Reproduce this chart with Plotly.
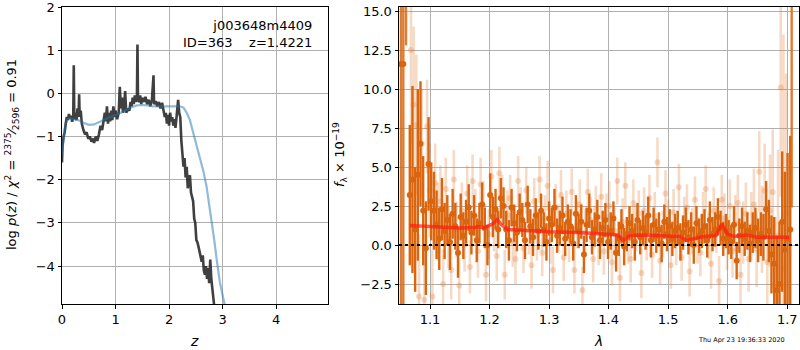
import plotly.graph_objects as go

# ---------------- Left panel: p(z) ----------------
z_pz = [0.00, 0.01, 0.03, 0.05, 0.07, 0.09, 0.11, 0.13, 0.15, 0.17, 0.19, 0.21, 0.22, 0.23, 0.25,
        0.27, 0.29, 0.31, 0.32, 0.33, 0.35, 0.37, 0.40, 0.43, 0.46, 0.49, 0.52, 0.55, 0.58, 0.60,
        0.63, 0.66, 0.69, 0.72, 0.75, 0.78, 0.80, 0.82, 0.84, 0.86, 0.88, 0.90, 0.92, 0.94, 0.96,
        0.98, 1.00, 1.03, 1.06, 1.08, 1.10, 1.12, 1.14, 1.16, 1.18, 1.20, 1.23, 1.26, 1.28, 1.30,
        1.32, 1.34, 1.36, 1.38, 1.40, 1.41, 1.42, 1.44, 1.46, 1.48, 1.50, 1.53, 1.56, 1.59, 1.62,
        1.65, 1.68, 1.71, 1.72, 1.75, 1.78, 1.81, 1.84, 1.87, 1.90, 1.92, 1.94, 1.96, 1.98, 2.00,
        2.02, 2.04, 2.06, 2.08, 2.10, 2.12, 2.14, 2.17, 2.19, 2.21, 2.23, 2.25, 2.27, 2.29, 2.31,
        2.33, 2.35, 2.37, 2.39, 2.41, 2.43, 2.45, 2.47, 2.49, 2.51, 2.53, 2.55, 2.57, 2.59, 2.61,
        2.63, 2.65, 2.67, 2.69, 2.71, 2.73, 2.75, 2.77, 2.79, 2.81, 2.83, 2.85]
logp = [-1.60, -1.20, -1.00, -0.90, -0.70, -0.55, -0.62, -0.48, -0.58, -0.52, -0.66, -0.55, 0.65, -0.60, -0.45,
        -0.62, -0.35, -0.55, -0.02, -0.50, -0.40, -0.70, -0.85, -0.95, -0.90, -1.05, -1.00, -1.12, -1.05, -1.15,
        -1.00, -1.10, -0.95, -0.75, -0.85, -0.60, -0.45, -0.65, -0.30, -0.70, -0.45, -0.65, -0.40, -0.62, -0.30,
        -0.55, -0.40, -0.60, -0.45, 0.15, -0.35, -0.10, -0.45, -0.30, 0.05, -0.45, -0.35, -0.40, -0.20, -0.30,
        -0.10, -0.25, -0.05, -0.20, -0.10, 1.13, -0.15, -0.20, -0.05, -0.25, -0.10, -0.20, -0.08, -0.25, -0.15,
        -0.30, -0.15, 0.42, -0.25, -0.18, -0.30, -0.20, -0.35, -0.22, -0.40, -0.55, -0.45, -0.70, -0.50, -0.75,
        -0.45, -0.65, -0.55, -0.75, -0.60, -0.80, -0.55, -0.15, -0.45, -0.55, -1.10, -1.40, -1.70, -1.50, -1.95,
        -1.70, -2.20, -1.95, -1.90, -2.30, -2.45, -2.50, -2.90, -3.00, -3.40, -3.45, -3.55, -3.70, -3.80, -3.90,
        -3.75, -4.10, -4.20, -4.00, -4.30, -4.05, -4.40, -3.85, -4.30, -4.55, -4.70, -5.00]

z_prior = [0.00, 0.03, 0.06, 0.10, 0.15, 0.20, 0.30, 0.40, 0.50, 0.60, 0.70, 0.80, 0.90, 1.00, 1.10,
           1.20, 1.30, 1.40, 1.50, 1.60, 1.70, 1.80, 1.90, 2.00, 2.10, 2.20, 2.27, 2.33, 2.39, 2.45,
           2.52, 2.58, 2.64, 2.70, 2.75, 2.80, 2.85, 2.89, 2.95, 3.04]
logp_prior = [-1.40, -1.00, -0.75, -0.60, -0.58, -0.60, -0.62, -0.68, -0.73, -0.72, -0.66, -0.60, -0.55, -0.50, -0.45,
              -0.38, -0.32, -0.28, -0.27, -0.28, -0.30, -0.30, -0.30, -0.30, -0.30, -0.30, -0.33, -0.45, -0.62, -0.90,
              -1.23, -1.55, -1.80, -2.15, -2.55, -3.00, -3.45, -3.85, -4.38, -4.90]

# ---------------- Right panel: spectrum ----------------
# dark (first grism) spectrum, uniform wavelength sampling
dark_lam0, dark_dlam = 1.0660, 0.0045
dark_flux = [3.2, 4.2, 1.0, 4.5, 6.5, 2.2, -0.2, 5.2, 2.8, 2.2,
             1.3, 0.4, 2.3, 0.9, 1.6, 0.2, 2.0, 1.2, -0.5, 1.8,
             0.6, 1.5, 2.4, 0.8, 1.9, 0.3, 1.4, 2.6, 1.1, 0.0,
             3.2, 1.8, 2.3, 1.0, 3.0, 2.5, 1.0, 0.3, 2.4, 1.4,
             0.8, 2.1, 1.6, 0.3, 2.6, 1.2, 0.5, 1.9, 0.9, 2.2,
             1.0, 0.2, 1.7, 1.3, 2.4, 0.6, 1.1, 1.9, 0.4, 1.5,
             1.2, 0.1, 2.0, 0.9, 1.5, -0.6, 1.3, 2.2, 0.5, 1.0,
             1.8, 0.3, 1.1, 1.6, 0.2, 0.9, 1.7, -0.5, 0.4, 1.2,
             -0.1, 0.7, 1.4, 0.9, 0.2, 1.6, 0.5, 1.1, 0.8, 1.9,
             0.3, 1.3, 0.6, 1.0, 0.1, 1.5, 0.7, 1.2, 0.4, 0.9,
             1.1, 0.2, 0.8, 1.3, 0.5, 1.0, 0.0, 1.4, 0.6, 0.9,
             1.2, 0.3, 1.6, 0.7, 1.0, 1.8, 1.1, 0.4, 0.9, 0.5,
             0.2, 1.3, -1.0, 0.6, 1.2, 0.4, 0.9, 0.1, 0.8, 1.1,
             0.3, 0.7, 0.5, 2.3, 0.9, -0.6, -1.2, -2.9, -2.5, 1.5,
             -0.3, 0.4, 1.0]
dark_err = [4.5, 6.0, 4.0, 5.5, 4.0, 3.5, 3.0, 3.0, 2.5, 2.5,
            2.2, 2.0, 2.0, 1.8, 1.6, 1.8, 1.6, 1.5, 1.6, 1.5,
            1.5, 1.4, 1.5, 1.4, 1.3, 1.4, 1.3, 1.4, 1.3, 1.3,
            1.4, 1.3, 1.3, 1.2, 1.3, 1.2, 1.2, 1.3, 1.2, 1.2,
            1.2, 1.2, 1.1, 1.2, 1.2, 1.1, 1.2, 1.1, 1.2, 1.1,
            1.1, 1.2, 1.1, 1.1, 1.2, 1.1, 1.1, 1.2, 1.1, 1.1,
            1.1, 1.1, 1.2, 1.1, 1.1, 1.2, 1.1, 1.1, 1.1, 1.1,
            1.1, 1.2, 1.1, 1.1, 1.1, 1.2, 1.1, 1.2, 1.1, 1.1,
            1.2, 1.1, 1.1, 1.1, 1.2, 1.1, 1.1, 1.1, 1.1, 1.2,
            1.1, 1.1, 1.1, 1.1, 1.2, 1.1, 1.1, 1.1, 1.1, 1.1,
            1.1, 1.2, 1.1, 1.1, 1.1, 1.1, 1.2, 1.1, 1.1, 1.1,
            1.1, 1.1, 1.2, 1.1, 1.1, 1.2, 1.1, 1.1, 1.1, 1.1,
            1.1, 1.2, 1.2, 1.1, 1.2, 1.1, 1.2, 1.2, 1.3, 1.3,
            1.4, 1.4, 1.5, 1.8, 2.0, 2.5, 3.0, 3.5, 4.0, 4.5,
            5.0, 5.5, 6.0]
# points at the detector edges with very large uncertainties
edge_lam = [1.0513, 1.0552, 1.0597, 1.7074]
edge_flux = [11.6, 11.6, 20.0, 25.0]
edge_err = [30.0, 30.0, 7.2, 22.6]

# light (second grism) spectrum
light_lam0, light_dlam = 1.0680, 0.0045
light_flux = [12.5, 9.0, 7.7, -3.3, 6.5, -3.5, 7.6, 3.5, -3.3, 4.0,
              1.5, 2.8, -2.5, 3.6, 0.5, -1.6, 4.2, 1.0, -2.6, 2.2,
              0.0, 3.3, -1.4, 4.1, 1.8, -0.4, 3.9, 2.5, -1.9, 0.7,
              4.4, 1.2, -0.7, 4.6, 2.9, -1.9, 1.9, 3.0, 0.2, -0.9,
              4.1, 2.2, -0.2, 3.5, 1.0, -1.3, 2.8, 0.6, 4.2, -0.5,
              1.7, 3.8, 0.3, -1.6, 2.4, 1.1, 3.2, -0.8, 2.0, 0.4,
              3.4, -1.6, 1.3, 2.6, -2.9, 0.8, 3.4, 1.6, -0.9, 2.3,
              0.2, 3.1, -0.4, 1.8, 2.5, -1.1, 0.9, 4.1, -2.1, 1.5,
              3.8, 0.3, -0.9, 2.7, 1.1, 2.0, -1.8, 2.2, 0.5, 3.0,
              -0.6, 1.9, 5.3, -1.0, 0.7, 3.3, 1.4, -1.3, 2.1, 0.2,
              3.7, -0.8, 1.6, 2.4, -1.7, 0.9, 2.9, 0.3, -0.5, 1.8,
              3.6, 0.6, -1.2, 2.2, 1.0, -2.3, 2.9, 1.7, 0.1, 2.5,
              -0.4, 1.4, 2.7, -1.9, 0.8, 2.0, -0.9, 1.2, 2.6, -0.3,
              4.7, 1.0, 3.5, -1.1, 2.2, 3.4, -2.7, 0.6, 10.1, -1.5,
              2.0]
light_err = [6.0, 5.0, 4.5, 4.0, 3.5, 3.5, 3.0, 3.0, 3.0, 2.5,
             2.5, 2.3, 2.2, 2.0, 2.0, 1.9, 1.9, 1.8, 1.8, 1.8,
             1.7, 1.8, 1.7, 1.7, 1.8, 1.7, 1.7, 1.6, 1.7, 1.6,
             1.7, 1.6, 1.6, 1.7, 1.6, 1.6, 1.6, 1.5, 1.6, 1.6,
             1.6, 1.5, 1.6, 1.5, 1.6, 1.5, 1.5, 1.6, 1.5, 1.5,
             1.5, 1.6, 1.5, 1.5, 1.5, 1.5, 1.6, 1.5, 1.5, 1.5,
             1.5, 1.5, 1.5, 1.6, 1.5, 1.5, 1.5, 1.5, 1.5, 1.5,
             1.5, 1.5, 1.5, 1.5, 1.6, 1.5, 1.5, 1.5, 1.5, 1.5,
             1.5, 1.5, 1.5, 1.5, 1.5, 1.5, 1.6, 1.5, 1.5, 1.5,
             1.5, 1.5, 1.6, 1.5, 1.5, 1.5, 1.5, 1.5, 1.5, 1.5,
             1.5, 1.5, 1.5, 1.5, 1.6, 1.5, 1.5, 1.5, 1.5, 1.6,
             1.5, 1.5, 1.6, 1.5, 1.5, 1.6, 1.6, 1.6, 1.7, 1.7,
             1.7, 1.8, 1.8, 1.9, 2.0, 2.0, 2.1, 2.2, 2.3, 2.4,
             2.6, 2.8, 3.0, 3.3, 3.6, 4.0, 4.5, 5.5, 7.0, 15.0,
             9.0]

# model spectrum
model_lam = [1.066, 1.10, 1.15, 1.175, 1.18, 1.19, 1.205, 1.213, 1.22, 1.23, 1.25, 1.30, 1.35, 1.40,
             1.415, 1.425, 1.435, 1.45, 1.50, 1.52, 1.53, 1.545, 1.56, 1.58, 1.59, 1.60, 1.61, 1.63,
             1.65, 1.703]
model_flux = [1.25, 1.20, 1.10, 1.12, 1.18, 1.10, 1.35, 1.65, 1.30, 1.00, 0.95, 0.85, 0.80, 0.70,
              0.65, 0.30, 0.60, 0.65, 0.60, 0.55, 0.30, 0.45, 0.55, 0.60, 1.35, 0.70, 0.55, 0.65,
              0.50, 0.50]

dark_lam = [dark_lam0 + i * dark_dlam for i in range(len(dark_flux))]
light_lam = [light_lam0 + i * light_dlam for i in range(len(light_flux))]

DARK = "#d9650f"
LIGHT = "rgba(226,122,45,0.28)"
FONT = "DejaVu Sans"

fig = go.Figure()

# left panel
fig.add_trace(go.Scatter(x=z_pz, y=logp, mode="lines",
                         line=dict(color="rgba(30,30,30,0.85)", width=2.6),
                         xaxis="x", yaxis="y", showlegend=False))
fig.add_trace(go.Scatter(x=z_prior, y=logp_prior, mode="lines",
                         line=dict(color="rgba(31,119,180,0.5)", width=2.2),
                         xaxis="x", yaxis="y", showlegend=False))

# right panel
fig.add_trace(go.Scatter(x=light_lam, y=light_flux, mode="markers",
                         marker=dict(color=LIGHT, size=6),
                         error_y=dict(type="data", array=light_err, color=LIGHT, thickness=2.6, width=0),
                         xaxis="x2", yaxis="y2", showlegend=False))
fig.add_trace(go.Scatter(x=dark_lam, y=dark_flux, mode="markers",
                         marker=dict(color=DARK, size=6),
                         error_y=dict(type="data", array=dark_err, color=DARK, thickness=2.4, width=0),
                         xaxis="x2", yaxis="y2", showlegend=False))
fig.add_trace(go.Scatter(x=edge_lam, y=edge_flux, mode="markers",
                         marker=dict(color=DARK, size=6),
                         error_y=dict(type="data", array=edge_err, color="rgba(217,101,15,0.85)",
                                      thickness=2.4, width=0),
                         xaxis="x2", yaxis="y2", showlegend=False))
fig.add_trace(go.Scatter(x=model_lam, y=model_flux, mode="lines",
                         line=dict(color="rgba(255,25,15,0.7)", width=3.5),
                         xaxis="x2", yaxis="y2", showlegend=False))

fig.add_shape(type="line", xref="x2 domain", yref="y2", x0=0, x1=1, y0=0, y1=0,
              line=dict(color="black", width=2, dash="dot"))

axis_common = dict(showline=True, linecolor="black", linewidth=1, mirror=True,
                   ticks="outside", ticklen=3.5, tickcolor="black", automargin=False,
                   ticklabeloverflow="allow",
                   showgrid=True, gridcolor="#b0b0b0", gridwidth=1, zeroline=False,
                   tickfont=dict(family=FONT, size=13, color="black"))

fig.update_layout(
    width=800, height=350,
    margin=dict(l=0, r=0, t=0, b=0, pad=0),
    paper_bgcolor="white", plot_bgcolor="white",
    font=dict(family=FONT, size=13, color="black"),
    xaxis=dict(domain=[62 / 800, 328 / 800], range=[0, 4.97], tickvals=[0, 1, 2, 3, 4],
               anchor="y", **axis_common),
    yaxis=dict(domain=[46 / 350, 343 / 350], range=[-4.88, 2.0], tickvals=[-4, -3, -2, -1, 0, 1, 2],
               ticktext=["\u22124", "\u22123", "\u22122", "\u22121", "0", "1", "2"],
               anchor="x", **axis_common),
    xaxis2=dict(domain=[399 / 800, 799 / 800], range=[1.0479, 1.7197],
                tickvals=[1.1, 1.2, 1.3, 1.4, 1.5, 1.6, 1.7], tickformat=".1f",
                anchor="y2", **axis_common),
    yaxis2=dict(domain=[46 / 350, 343 / 350], range=[-3.78, 15.26],
                tickvals=[-2.5, 0, 2.5, 5, 7.5, 10, 12.5, 15],
                ticktext=["\u22122.5", "0.0", "2.5", "5.0", "7.5", "10.0", "12.5", "15.0"],
                anchor="x2", **axis_common),
)

NB = "\u00a0"
ann = [
    dict(text="j003648m4409<br>ID=363" + NB * 4 + "z=1.4221", x=314 / 800, y=1 - 16 / 350,
         xanchor="right", yanchor="top", align="right", showarrow=False,
         font=dict(family=FONT, size=13, color="black")),
    dict(text="<i>z</i>", x=194 / 800, y=1 - 341 / 350, xanchor="center", yanchor="middle",
         showarrow=False, font=dict(family=FONT, size=14)),
    dict(text="<i>\u03bb</i>", x=598 / 800, y=1 - 341 / 350, xanchor="center", yanchor="middle",
         showarrow=False, font=dict(family=FONT, size=14)),
    dict(text="log <i>p</i>(<i>z</i>) / <i>\u03c7</i><sup>2</sup> = <sup>2375</sup>\u2044<sub>2596</sub> = 0.91",
         x=12 / 800, y=1 - 155 / 350, xanchor="center", yanchor="middle", textangle=-90,
         showarrow=False, font=dict(family=FONT, size=13)),
    dict(text="<i>f</i><sub>\u03bb</sub> \u00d7 10<sup>\u221219</sup>",
         x=340 / 800, y=1 - 155 / 350, xanchor="center", yanchor="middle", textangle=-90,
         showarrow=False, font=dict(family=FONT, size=13)),
    dict(text="Thu Apr 23 19:36:33 2020", x=787 / 800, y=1 - 340 / 350,
         xanchor="right", yanchor="middle", showarrow=False,
         font=dict(family=FONT, size=6.5, color="black")),
]
for a in ann:
    a.setdefault("xref", "paper")
    a.setdefault("yref", "paper")
fig.update_layout(annotations=ann)

fig.write_html("out.html", config={"displayModeBar": False},
               post_script="document.body.style.margin='0';document.body.style.overflow='hidden';")
